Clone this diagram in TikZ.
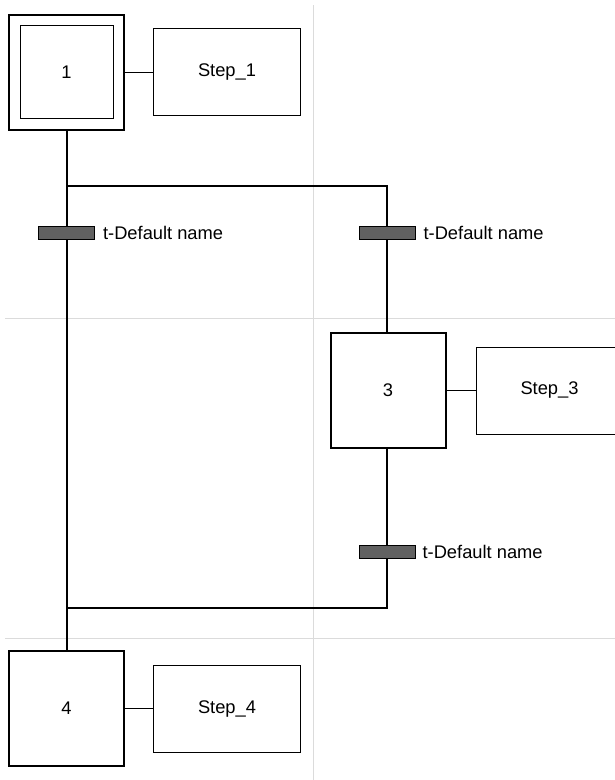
\documentclass[tikz,border=0pt]{standalone}
\usepackage{fontspec}
\setmainfont{Liberation Sans}
\usetikzlibrary{positioning}

\begin{document}
\begin{tikzpicture}[x=1pt,y=-1pt,
    every node/.style={font=\fontsize{18.3}{21}\selectfont},
    stepbox/.style={draw,line width=2pt,minimum size=115pt,inner sep=0pt},
    initbox/.style={draw,line width=1pt,minimum size=93pt,inner sep=0pt},
    actbox/.style={draw,line width=1pt,minimum width=147pt,minimum height=87pt,inner sep=0pt},
    transbar/.style={draw,line width=0.8pt,fill=black!62,minimum width=56pt,minimum height=12.5pt,inner sep=0pt},
    translabel/.style={inner sep=0pt,anchor=west},
    link/.style={line width=2pt},
    actlink/.style={line width=1pt},
    gridline/.style={draw=black!14,line width=1pt}]
  \useasboundingbox (0,0) rectangle (615,780);
  % background grid
  \draw[gridline] (313.5,5) -- (313.5,780);
  \foreach \y in {318,638}
    \draw[gridline] (5,\y) -- (615,\y);
  % steps
  \node[stepbox] (s1) at (66.5,72) {};
  \node[initbox] (s1i) at (s1.center) {1};
  \node[stepbox] (s3) at (388,390.5) {3};
  \node[stepbox] (s4) at (66.5,708.5) {4};
  % actions
  \node[actbox,right=28pt of s1] (a1) {Step\_1};
  \node[actbox,right=29pt of s3] (a3) {Step\_3};
  \node[actbox,right=28pt of s4] (a4) {Step\_4};
  \draw[actlink] (s1) -- (a1);
  \draw[actlink] (s3) -- (a3);
  \draw[actlink] (s4) -- (a4);
  % transitions
  \node[transbar] (t1) at (66.5,233) {};
  \node[transbar] (t2) at (387,233) {};
  \node[transbar] (t3) at (387,552) {};
  \node[translabel,right=8pt of t1] (t1l) {t-Default name};
  \node[translabel,right=8pt of t2] (t2l) {t-Default name};
  \node[translabel,right=7pt of t3] (t3l) {t-Default name};
  % branch points
  \coordinate (j1) at (66.5,186);
  \coordinate (j2) at (387,186);
  \coordinate (j3) at (66.5,608);
  \coordinate (j4) at (387,608);
  % connections
  \draw[link] (s1.south) -- (t1.north);
  \draw[link] (t1.south) -- (s4.north);
  \draw[link] (j1) -- (j2) -- (t2.north);
  \draw[link] (t2.south) -- (s3.north -| t2.south);
  \draw[link] (s3.south -| t3.north) -- (t3.north);
  \draw[link] (t3.south) -- (j4) -- (j3);
\end{tikzpicture}
\end{document}
